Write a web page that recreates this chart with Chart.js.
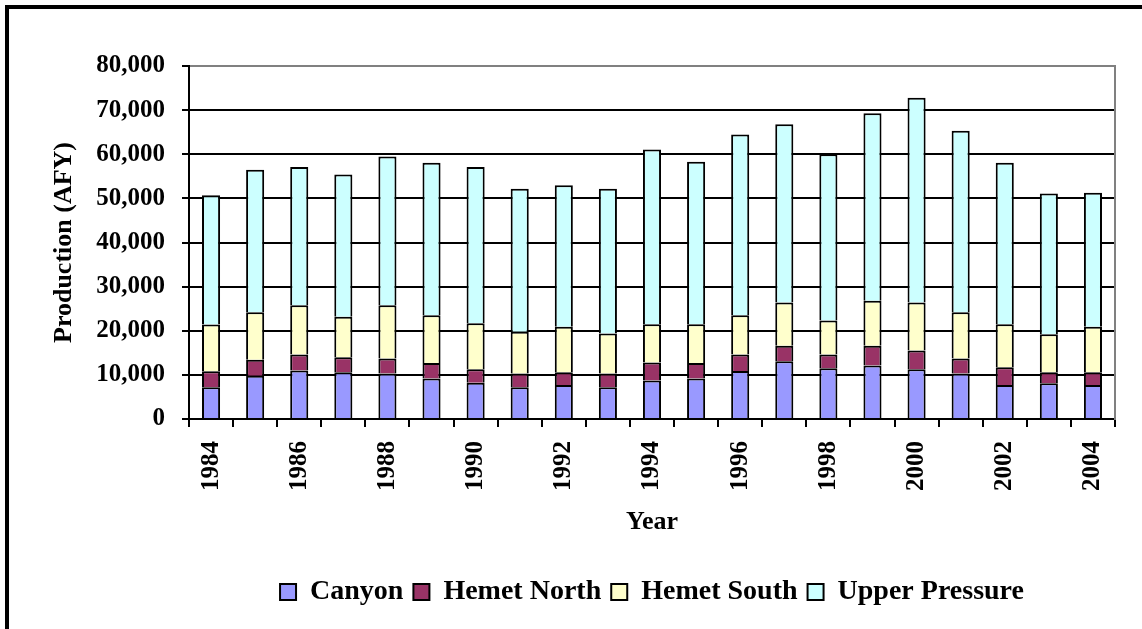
<!DOCTYPE html>
<html>
<head>
<meta charset="utf-8">
<script src="https://cdn.jsdelivr.net/npm/chart.js@4/dist/chart.umd.min.js"></script>
<style>
  html, body { margin: 0; padding: 0; background: #fff; overflow: hidden; }
  #wrap { position: relative; width: 1142px; height: 629px; overflow: hidden; }
  #frame { position: absolute; left: 5px; top: 5px; width: 1200px; height: 700px; border: 4px solid #000; box-sizing: border-box; }
  canvas { position: absolute; left: 0; top: 0; }
</style>
</head>
<body>
<div id="wrap">
  <div id="frame"></div>
  <canvas id="c" width="1142" height="629"></canvas>
</div>
<script>
const years = ['1984','1985','1986','1987','1988','1989','1990','1991','1992','1993','1994',
               '1995','1996','1997','1998','1999','2000','2001','2002','2003','2004'];
const canyon       = [7200, 9800, 11000, 10600, 10300, 9200, 8200, 7200, 7700, 7200, 8700, 9200, 10900, 13100, 11500, 12100, 11300, 10300, 7700, 8100, 7700];
const hemetNorth   = [3600, 3600, 3600, 3400, 3400, 3500, 3100, 3100, 2900, 3100, 4100, 3500, 3700, 3500, 3100, 4500, 4200, 3400, 4000, 2500, 2900];
const hemetSouth   = [10600, 10800, 11200, 9200, 12100, 10800, 10400, 9500, 10300, 9100, 8700, 8800, 8900, 9800, 7700, 10200, 10900, 10500, 9800, 8600, 10300];
const upperPressure= [29300, 32300, 31300, 32200, 33700, 34600, 35400, 32400, 32100, 32800, 39600, 36800, 41000, 40400, 37700, 42500, 46400, 41100, 36600, 31900, 30400];
const yTicks = [0, 10000, 20000, 30000, 40000, 50000, 60000, 70000, 80000];

const FONT = "'Liberation Serif', 'Times New Roman', serif";
const common = { borderColor: '#000', borderWidth: 2, barPercentage: 0.41, categoryPercentage: 1.0, stack: 's' };

new Chart(document.getElementById('c'), {
  type: 'bar',
  data: {
    labels: years,
    datasets: [
      Object.assign({ label: 'Canyon', data: canyon, backgroundColor: '#9999FF' }, common),
      Object.assign({ label: 'Hemet North', data: hemetNorth, backgroundColor: '#993366' }, common),
      Object.assign({ label: 'Hemet South', data: hemetSouth, backgroundColor: '#FFFFCC' }, common),
      Object.assign({ label: 'Upper Pressure', data: upperPressure, backgroundColor: '#CCFFFF' }, common)
    ]
  },
  options: {
    responsive: false,
    animation: false,
    layout: { padding: { left: 45, right: 27, top: 66, bottom: 13 } },
    plugins: {
      tooltip: { enabled: false },
      legend: {
        position: 'bottom',
        fullSize: false,
        labels: {
          color: '#000',
          font: { family: FONT, size: 28, weight: 'bold' },
          boxWidth: 16, boxHeight: 16, padding: 10
        }
      }
    },
    scales: {
      x: {
        stacked: true,
        grid: { display: true, drawOnChartArea: false, drawTicks: true, tickLength: 8, color: '#000', lineWidth: 2, offset: true },
        border: { display: true, color: '#000', width: 2 },
        ticks: {
          color: '#000', autoSkip: false, minRotation: 90, maxRotation: 90, padding: 14,
          font: { family: FONT, size: 25, weight: 'bold' },
          callback: function(v, i) { return i % 2 === 0 ? years[i] : ''; }
        },
        title: { display: true, text: 'Year', color: '#000', font: { family: FONT, size: 26, weight: 'bold' }, padding: { top: 4, bottom: 30 } },
        afterFit: function(s) { s.height = 149; }
      },
      y: {
        stacked: true, min: 0, max: 80000,
        afterBuildTicks: function(s) { s.ticks = yTicks.map(v => ({ value: v })); },
        grid: {
          color: ctx => (ctx.tick && ctx.tick.value === 80000) ? '#808080' : '#000',
          tickColor: '#000', lineWidth: 2, tickLength: 7
        },
        border: { display: true, color: '#000', width: 2 },
        ticks: {
          color: '#000', padding: 17,
          font: { family: FONT, size: 25, weight: 'bold' },
          callback: v => v.toLocaleString('en-US')
        },
        title: { display: true, text: 'Production (AFY)', color: '#000', font: { family: FONT, size: 26, weight: 'bold' }, padding: 4 },
        afterFit: function(s) { s.width = 144; }
      },
      yRight: {
        position: 'right', min: 0, max: 80000, display: true,
        grid: { drawOnChartArea: false, drawTicks: false },
        border: { display: true, color: '#808080', width: 2 },
        ticks: { display: false },
        afterFit: function(s) { s.width = 0; }
      }
    }
  }
});
</script>
</body>
</html>
